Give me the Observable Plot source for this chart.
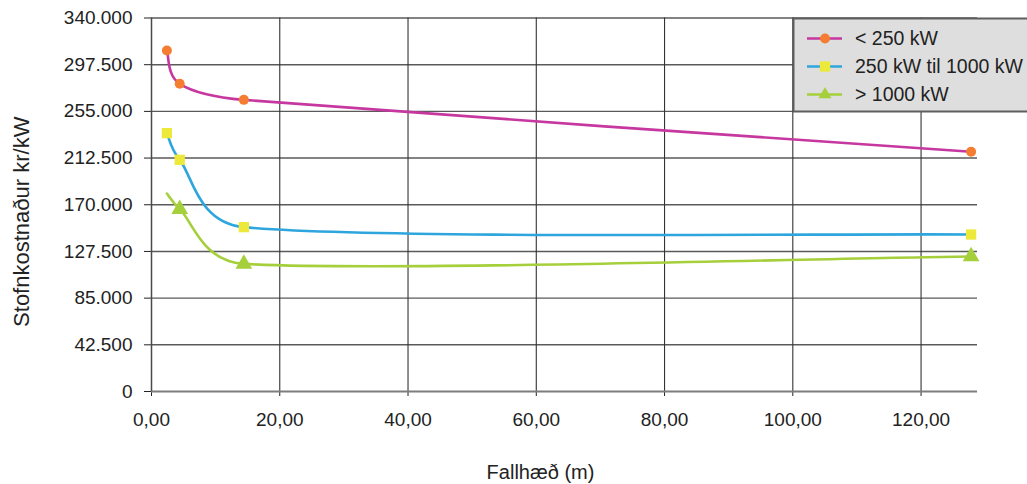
<!DOCTYPE html>
<html>
<head>
<meta charset="utf-8">
<script src="https://cdn.jsdelivr.net/npm/d3@7"></script>
<script src="https://cdn.jsdelivr.net/npm/@observablehq/plot@0.6"></script>
<style>
  html, body { margin: 0; padding: 0; background: #ffffff; }
  #chart { width: 1027px; height: 484px; overflow: hidden; }
</style>
</head>
<body>
<div id="chart"></div>
<script>
// ---- data ----
const xValues = [2.4, 4.4, 14.4, 127.8];               // Fallhæð (m)
const smallPlants = [310400, 280100, 265500, 218200];  // < 250 kW
const midPlants   = [235200, 210900, 149600, 142900];  // 250 kW til 1000 kW
const largePlants = [180200, 166000, 116200, 122900];  // > 1000 kW
const largeMarkerShown = [false, true, true, true];

const seriesNames = ["< 250 kW", "250 kW til 1000 kW", "> 1000 kW"];
const yTicks = [0, 42500, 85000, 127500, 170000, 212500, 255000, 297500, 340000];
const xTicks = [0, 20, 40, 60, 80, 100, 120];
const xLabel = "Fallhæð (m)";
const yLabel = "Stofnkostnaður kr/kW";

// ---- styles ----
const lineColors   = ["#c6379f", "#2ea6dd", "#a6cf3c"];
const markerColors = ["#f47d32", "#ece93a", "#a6cf3c"];
const markerSymbols = ["circle", "square", "triangle"];
const markerR = [5, 5.8, 6.2];

const locale = d3.formatLocale({decimal: ",", thousands: ".", grouping: [3], currency: ["", " kr"]});
const fmtY = locale.format(",.0f");
const fmtX = locale.format(".2f");

// Spreadsheet-style smoothed line: Bezier segments with tangents (P[i+1]-P[i-1])/6,
// each control arm limited to half of its segment's length.
function smoothCurve(context) {
  let pts = [];
  function flush() {
    if (!pts.length) return;
    context.moveTo(pts[0][0], pts[0][1]);
    for (let i = 0; i < pts.length - 1; i++) {
      const p1 = pts[i], p2 = pts[i + 1];
      const p0 = pts[i - 1] || p1, p3 = pts[i + 2] || p2;
      const seg = Math.hypot(p2[0] - p1[0], p2[1] - p1[1]);
      let a1 = [(p2[0] - p0[0]) / 6, (p2[1] - p0[1]) / 6];
      let a2 = [(p3[0] - p1[0]) / 6, (p3[1] - p1[1]) / 6];
      const l1 = Math.hypot(a1[0], a1[1]), l2 = Math.hypot(a2[0], a2[1]);
      if (l1 > seg / 2) a1 = a1.map(v => v * seg / 2 / l1);
      if (l2 > seg / 2) a2 = a2.map(v => v * seg / 2 / l2);
      context.bezierCurveTo(p1[0] + a1[0], p1[1] + a1[1], p2[0] - a2[0], p2[1] - a2[1], p2[0], p2[1]);
    }
  }
  return {
    areaStart() {}, areaEnd() {},
    lineStart() { pts = []; },
    lineEnd() { flush(); pts = []; },
    point(x, y) { pts.push([+x, +y]); }
  };
}

const seriesValues = [smallPlants, midPlants, largePlants];
const rows = [];
seriesValues.forEach((vals, s) => {
  vals.forEach((v, i) => rows.push({
    series: seriesNames[s], idx: s, x: xValues[i], y: v,
    marker: s === 2 ? largeMarkerShown[i] : true
  }));
});

const marks = [
  Plot.ruleY(yTicks.filter(d => d > 0), {stroke: "#5a5a5a", strokeWidth: 1.4}),
  Plot.ruleX(xTicks.filter(d => d > 0), {stroke: "#333333", strokeWidth: 1.1}),
  Plot.ruleY([0], {stroke: "#7d7d7d", strokeWidth: 2.2}),
  Plot.ruleX([0], {stroke: "#4a4a4a", strokeWidth: 1.5}),
];
seriesNames.forEach((name, s) => {
  const data = rows.filter(r => r.idx === s);
  marks.push(Plot.line(data, {x: "x", y: "y", curve: smoothCurve, stroke: lineColors[s], strokeWidth: 2.6}));
});
seriesNames.forEach((name, s) => {
  const data = rows.filter(r => r.idx === s && r.marker);
  marks.push(Plot.dot(data, {x: "x", y: "y", symbol: () => markerSymbols[s], r: markerR[s], fill: markerColors[s], stroke: "none"}));
});
marks.push(Plot.text([yLabel], {text: d => d, frameAnchor: "left", textAnchor: "middle", lineAnchor: "middle",
  rotate: -90, dx: -130, dy: 17, fontSize: 22, fill: "#222"}));
marks.push(Plot.text([xLabel], {text: d => d, frameAnchor: "bottom", textAnchor: "middle", lineAnchor: "middle",
  dx: -24, dy: 81, fontSize: 20, fill: "#222"}));

const chart = Plot.plot({
  width: 1027,
  height: 484,
  marginLeft: 151,
  marginRight: 50,
  marginTop: 17.5,
  marginBottom: 93,
  style: {fontFamily: "'Liberation Sans', Arial, sans-serif", fontSize: "19px", color: "#222", background: "#ffffff", overflow: "visible"},
  x: {domain: [0, 128.8], ticks: xTicks, tickFormat: fmtX, tickSize: 5, tickPadding: 16, label: null},
  y: {domain: [0, 340000], ticks: yTicks, tickFormat: fmtY, tickSize: 7, tickPadding: 12, label: null},
  symbol: {type: "identity"},
  marks
});

document.getElementById("chart").appendChild(chart);

// ---- legend (drawn into the same SVG) ----
const svg = d3.select(chart);
const lg = svg.append("g").attr("class", "legend").attr("text-anchor", "start");
lg.append("rect")
  .attr("x", 793.5).attr("y", 18.5).attr("width", 260).attr("height", 93)
  .attr("fill", "#dedede").attr("stroke", "#5e5e5e").attr("stroke-width", 2);
const rowY = [38.5, 66.5, 94.5];
seriesNames.forEach((name, s) => {
  const g = lg.append("g").attr("transform", `translate(0,${rowY[s]})`);
  g.append("line").attr("x1", 807).attr("x2", 842).attr("y1", 0).attr("y2", 0)
    .attr("stroke", lineColors[s]).attr("stroke-width", 2.6);
  const sym = [d3.symbolCircle, d3.symbolSquare, d3.symbolTriangle2][s];
  g.append("path").attr("transform", "translate(825,0)")
    .attr("d", d3.symbol(sym, markerR[s] * markerR[s] * Math.PI)())
    .attr("fill", markerColors[s]);
  g.append("text").attr("x", 855).attr("y", 0).attr("dy", "0.35em")
    .attr("text-anchor", "start")
    .attr("font-size", 19.5).attr("fill", "#222").text(name);
});
</script>
</body>
</html>
